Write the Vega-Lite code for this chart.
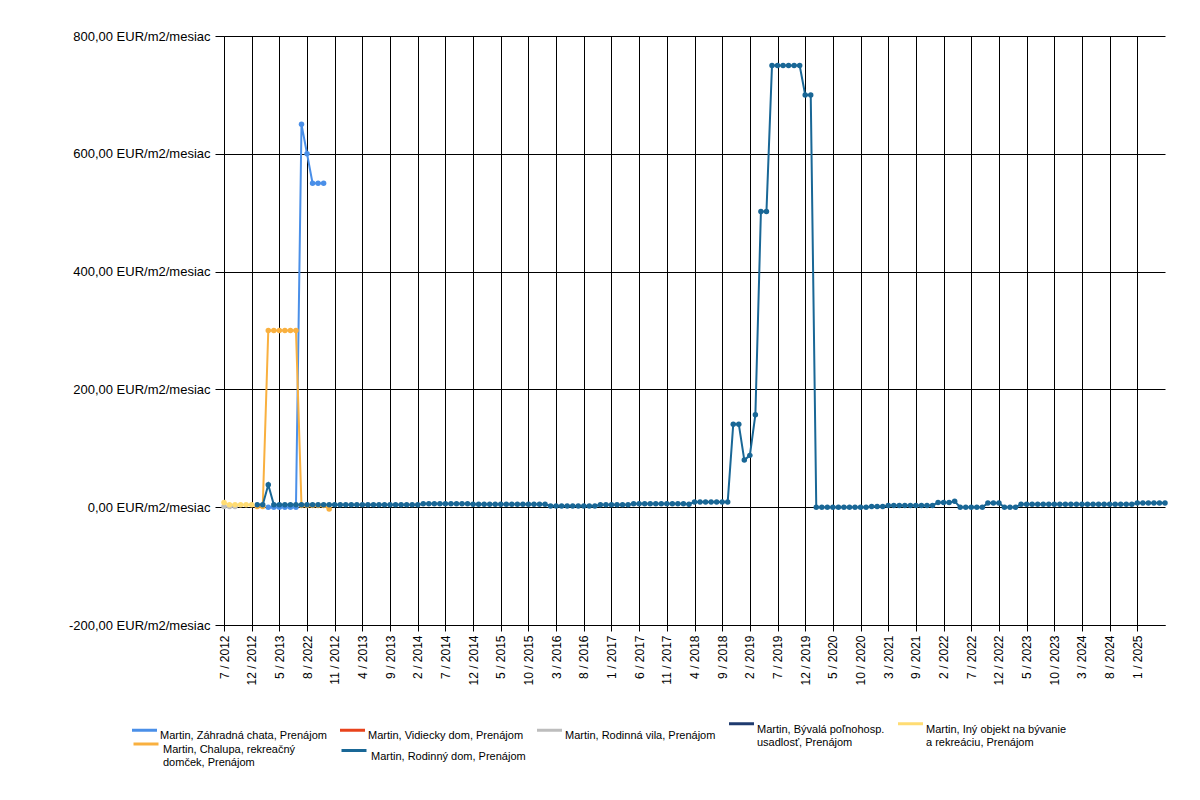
{
  "$schema": "https://vega.github.io/schema/vega-lite/v6.json",
  "width": 941,
  "height": 589,
  "autosize": {"type": "none"},
  "padding": {"left": 224, "top": 36, "right": 35, "bottom": 175},
  "background": "white",
  "config": {"view": {"stroke": null}, "font": "Liberation Sans"},
  "data": {"values": [
    {"series": "Martin, Záhradná chata, Prenájom", "i": 8, "value": 0},
    {"series": "Martin, Záhradná chata, Prenájom", "i": 9, "value": 0},
    {"series": "Martin, Záhradná chata, Prenájom", "i": 10, "value": 0},
    {"series": "Martin, Záhradná chata, Prenájom", "i": 11, "value": 0},
    {"series": "Martin, Záhradná chata, Prenájom", "i": 12, "value": 0},
    {"series": "Martin, Záhradná chata, Prenájom", "i": 13, "value": 0},
    {"series": "Martin, Záhradná chata, Prenájom", "i": 14, "value": 650},
    {"series": "Martin, Záhradná chata, Prenájom", "i": 15, "value": 600},
    {"series": "Martin, Záhradná chata, Prenájom", "i": 16, "value": 550},
    {"series": "Martin, Záhradná chata, Prenájom", "i": 17, "value": 550},
    {"series": "Martin, Záhradná chata, Prenájom", "i": 18, "value": 550},
    {"series": "Martin, Chalupa, rekreačný domček, Prenájom", "i": 6, "value": 1},
    {"series": "Martin, Chalupa, rekreačný domček, Prenájom", "i": 7, "value": 1},
    {"series": "Martin, Chalupa, rekreačný domček, Prenájom", "i": 8, "value": 300},
    {"series": "Martin, Chalupa, rekreačný domček, Prenájom", "i": 9, "value": 300},
    {"series": "Martin, Chalupa, rekreačný domček, Prenájom", "i": 10, "value": 300},
    {"series": "Martin, Chalupa, rekreačný domček, Prenájom", "i": 11, "value": 300},
    {"series": "Martin, Chalupa, rekreačný domček, Prenájom", "i": 12, "value": 300},
    {"series": "Martin, Chalupa, rekreačný domček, Prenájom", "i": 13, "value": 300},
    {"series": "Martin, Chalupa, rekreačný domček, Prenájom", "i": 14, "value": 3},
    {"series": "Martin, Chalupa, rekreačný domček, Prenájom", "i": 15, "value": 3},
    {"series": "Martin, Chalupa, rekreačný domček, Prenájom", "i": 16, "value": 3},
    {"series": "Martin, Chalupa, rekreačný domček, Prenájom", "i": 17, "value": 3},
    {"series": "Martin, Chalupa, rekreačný domček, Prenájom", "i": 18, "value": 3},
    {"series": "Martin, Chalupa, rekreačný domček, Prenájom", "i": 19, "value": -3},
    {"series": "Martin, Rodinný dom, Prenájom", "i": 6, "value": 4},
    {"series": "Martin, Rodinný dom, Prenájom", "i": 7, "value": 4},
    {"series": "Martin, Rodinný dom, Prenájom", "i": 8, "value": 38},
    {"series": "Martin, Rodinný dom, Prenájom", "i": 9, "value": 4},
    {"series": "Martin, Rodinný dom, Prenájom", "i": 10, "value": 4},
    {"series": "Martin, Rodinný dom, Prenájom", "i": 11, "value": 4},
    {"series": "Martin, Rodinný dom, Prenájom", "i": 12, "value": 4},
    {"series": "Martin, Rodinný dom, Prenájom", "i": 13, "value": 4},
    {"series": "Martin, Rodinný dom, Prenájom", "i": 14, "value": 4},
    {"series": "Martin, Rodinný dom, Prenájom", "i": 15, "value": 4},
    {"series": "Martin, Rodinný dom, Prenájom", "i": 16, "value": 4},
    {"series": "Martin, Rodinný dom, Prenájom", "i": 17, "value": 4},
    {"series": "Martin, Rodinný dom, Prenájom", "i": 18, "value": 4},
    {"series": "Martin, Rodinný dom, Prenájom", "i": 19, "value": 4},
    {"series": "Martin, Rodinný dom, Prenájom", "i": 20, "value": 4},
    {"series": "Martin, Rodinný dom, Prenájom", "i": 21, "value": 4},
    {"series": "Martin, Rodinný dom, Prenájom", "i": 22, "value": 4},
    {"series": "Martin, Rodinný dom, Prenájom", "i": 23, "value": 4},
    {"series": "Martin, Rodinný dom, Prenájom", "i": 24, "value": 4},
    {"series": "Martin, Rodinný dom, Prenájom", "i": 25, "value": 4},
    {"series": "Martin, Rodinný dom, Prenájom", "i": 26, "value": 4},
    {"series": "Martin, Rodinný dom, Prenájom", "i": 27, "value": 4},
    {"series": "Martin, Rodinný dom, Prenájom", "i": 28, "value": 4},
    {"series": "Martin, Rodinný dom, Prenájom", "i": 29, "value": 4},
    {"series": "Martin, Rodinný dom, Prenájom", "i": 30, "value": 4},
    {"series": "Martin, Rodinný dom, Prenájom", "i": 31, "value": 4},
    {"series": "Martin, Rodinný dom, Prenájom", "i": 32, "value": 4},
    {"series": "Martin, Rodinný dom, Prenájom", "i": 33, "value": 4},
    {"series": "Martin, Rodinný dom, Prenájom", "i": 34, "value": 4},
    {"series": "Martin, Rodinný dom, Prenájom", "i": 35, "value": 4},
    {"series": "Martin, Rodinný dom, Prenájom", "i": 36, "value": 6},
    {"series": "Martin, Rodinný dom, Prenájom", "i": 37, "value": 6},
    {"series": "Martin, Rodinný dom, Prenájom", "i": 38, "value": 6},
    {"series": "Martin, Rodinný dom, Prenájom", "i": 39, "value": 6},
    {"series": "Martin, Rodinný dom, Prenájom", "i": 40, "value": 6},
    {"series": "Martin, Rodinný dom, Prenájom", "i": 41, "value": 6},
    {"series": "Martin, Rodinný dom, Prenájom", "i": 42, "value": 6},
    {"series": "Martin, Rodinný dom, Prenájom", "i": 43, "value": 6},
    {"series": "Martin, Rodinný dom, Prenájom", "i": 44, "value": 6},
    {"series": "Martin, Rodinný dom, Prenájom", "i": 45, "value": 5},
    {"series": "Martin, Rodinný dom, Prenájom", "i": 46, "value": 5},
    {"series": "Martin, Rodinný dom, Prenájom", "i": 47, "value": 5},
    {"series": "Martin, Rodinný dom, Prenájom", "i": 48, "value": 5},
    {"series": "Martin, Rodinný dom, Prenájom", "i": 49, "value": 5},
    {"series": "Martin, Rodinný dom, Prenájom", "i": 50, "value": 5},
    {"series": "Martin, Rodinný dom, Prenájom", "i": 51, "value": 5},
    {"series": "Martin, Rodinný dom, Prenájom", "i": 52, "value": 5},
    {"series": "Martin, Rodinný dom, Prenájom", "i": 53, "value": 5},
    {"series": "Martin, Rodinný dom, Prenájom", "i": 54, "value": 5},
    {"series": "Martin, Rodinný dom, Prenájom", "i": 55, "value": 5},
    {"series": "Martin, Rodinný dom, Prenájom", "i": 56, "value": 5},
    {"series": "Martin, Rodinný dom, Prenájom", "i": 57, "value": 5},
    {"series": "Martin, Rodinný dom, Prenájom", "i": 58, "value": 5},
    {"series": "Martin, Rodinný dom, Prenájom", "i": 59, "value": 2},
    {"series": "Martin, Rodinný dom, Prenájom", "i": 60, "value": 2},
    {"series": "Martin, Rodinný dom, Prenájom", "i": 61, "value": 2},
    {"series": "Martin, Rodinný dom, Prenájom", "i": 62, "value": 2},
    {"series": "Martin, Rodinný dom, Prenájom", "i": 63, "value": 2},
    {"series": "Martin, Rodinný dom, Prenájom", "i": 64, "value": 2},
    {"series": "Martin, Rodinný dom, Prenájom", "i": 65, "value": 2},
    {"series": "Martin, Rodinný dom, Prenájom", "i": 66, "value": 2},
    {"series": "Martin, Rodinný dom, Prenájom", "i": 67, "value": 2},
    {"series": "Martin, Rodinný dom, Prenájom", "i": 68, "value": 4},
    {"series": "Martin, Rodinný dom, Prenájom", "i": 69, "value": 4},
    {"series": "Martin, Rodinný dom, Prenájom", "i": 70, "value": 4},
    {"series": "Martin, Rodinný dom, Prenájom", "i": 71, "value": 4},
    {"series": "Martin, Rodinný dom, Prenájom", "i": 72, "value": 4},
    {"series": "Martin, Rodinný dom, Prenájom", "i": 73, "value": 4},
    {"series": "Martin, Rodinný dom, Prenájom", "i": 74, "value": 6},
    {"series": "Martin, Rodinný dom, Prenájom", "i": 75, "value": 6},
    {"series": "Martin, Rodinný dom, Prenájom", "i": 76, "value": 6},
    {"series": "Martin, Rodinný dom, Prenájom", "i": 77, "value": 6},
    {"series": "Martin, Rodinný dom, Prenájom", "i": 78, "value": 6},
    {"series": "Martin, Rodinný dom, Prenájom", "i": 79, "value": 6},
    {"series": "Martin, Rodinný dom, Prenájom", "i": 80, "value": 6},
    {"series": "Martin, Rodinný dom, Prenájom", "i": 81, "value": 6},
    {"series": "Martin, Rodinný dom, Prenájom", "i": 82, "value": 6},
    {"series": "Martin, Rodinný dom, Prenájom", "i": 83, "value": 6},
    {"series": "Martin, Rodinný dom, Prenájom", "i": 84, "value": 5},
    {"series": "Martin, Rodinný dom, Prenájom", "i": 85, "value": 9},
    {"series": "Martin, Rodinný dom, Prenájom", "i": 86, "value": 9},
    {"series": "Martin, Rodinný dom, Prenájom", "i": 87, "value": 9},
    {"series": "Martin, Rodinný dom, Prenájom", "i": 88, "value": 9},
    {"series": "Martin, Rodinný dom, Prenájom", "i": 89, "value": 9},
    {"series": "Martin, Rodinný dom, Prenájom", "i": 90, "value": 9},
    {"series": "Martin, Rodinný dom, Prenájom", "i": 91, "value": 9},
    {"series": "Martin, Rodinný dom, Prenájom", "i": 92, "value": 141},
    {"series": "Martin, Rodinný dom, Prenájom", "i": 93, "value": 141},
    {"series": "Martin, Rodinný dom, Prenájom", "i": 94, "value": 80},
    {"series": "Martin, Rodinný dom, Prenájom", "i": 95, "value": 88},
    {"series": "Martin, Rodinný dom, Prenájom", "i": 96, "value": 157},
    {"series": "Martin, Rodinný dom, Prenájom", "i": 97, "value": 502},
    {"series": "Martin, Rodinný dom, Prenájom", "i": 98, "value": 502},
    {"series": "Martin, Rodinný dom, Prenájom", "i": 99, "value": 750},
    {"series": "Martin, Rodinný dom, Prenájom", "i": 100, "value": 750},
    {"series": "Martin, Rodinný dom, Prenájom", "i": 101, "value": 750},
    {"series": "Martin, Rodinný dom, Prenájom", "i": 102, "value": 750},
    {"series": "Martin, Rodinný dom, Prenájom", "i": 103, "value": 750},
    {"series": "Martin, Rodinný dom, Prenájom", "i": 104, "value": 750},
    {"series": "Martin, Rodinný dom, Prenájom", "i": 105, "value": 700},
    {"series": "Martin, Rodinný dom, Prenájom", "i": 106, "value": 700},
    {"series": "Martin, Rodinný dom, Prenájom", "i": 107, "value": 0},
    {"series": "Martin, Rodinný dom, Prenájom", "i": 108, "value": 0},
    {"series": "Martin, Rodinný dom, Prenájom", "i": 109, "value": 0},
    {"series": "Martin, Rodinný dom, Prenájom", "i": 110, "value": 0},
    {"series": "Martin, Rodinný dom, Prenájom", "i": 111, "value": 0},
    {"series": "Martin, Rodinný dom, Prenájom", "i": 112, "value": 0},
    {"series": "Martin, Rodinný dom, Prenájom", "i": 113, "value": 0},
    {"series": "Martin, Rodinný dom, Prenájom", "i": 114, "value": 0},
    {"series": "Martin, Rodinný dom, Prenájom", "i": 115, "value": 0},
    {"series": "Martin, Rodinný dom, Prenájom", "i": 116, "value": 0},
    {"series": "Martin, Rodinný dom, Prenájom", "i": 117, "value": 1},
    {"series": "Martin, Rodinný dom, Prenájom", "i": 118, "value": 1},
    {"series": "Martin, Rodinný dom, Prenájom", "i": 119, "value": 1},
    {"series": "Martin, Rodinný dom, Prenájom", "i": 120, "value": 3},
    {"series": "Martin, Rodinný dom, Prenájom", "i": 121, "value": 3},
    {"series": "Martin, Rodinný dom, Prenájom", "i": 122, "value": 3},
    {"series": "Martin, Rodinný dom, Prenájom", "i": 123, "value": 3},
    {"series": "Martin, Rodinný dom, Prenájom", "i": 124, "value": 3},
    {"series": "Martin, Rodinný dom, Prenájom", "i": 125, "value": 3},
    {"series": "Martin, Rodinný dom, Prenájom", "i": 126, "value": 3},
    {"series": "Martin, Rodinný dom, Prenájom", "i": 127, "value": 3},
    {"series": "Martin, Rodinný dom, Prenájom", "i": 128, "value": 3},
    {"series": "Martin, Rodinný dom, Prenájom", "i": 129, "value": 8},
    {"series": "Martin, Rodinný dom, Prenájom", "i": 130, "value": 8},
    {"series": "Martin, Rodinný dom, Prenájom", "i": 131, "value": 8},
    {"series": "Martin, Rodinný dom, Prenájom", "i": 132, "value": 10},
    {"series": "Martin, Rodinný dom, Prenájom", "i": 133, "value": 0},
    {"series": "Martin, Rodinný dom, Prenájom", "i": 134, "value": 0},
    {"series": "Martin, Rodinný dom, Prenájom", "i": 135, "value": 0},
    {"series": "Martin, Rodinný dom, Prenájom", "i": 136, "value": 0},
    {"series": "Martin, Rodinný dom, Prenájom", "i": 137, "value": 0},
    {"series": "Martin, Rodinný dom, Prenájom", "i": 138, "value": 7},
    {"series": "Martin, Rodinný dom, Prenájom", "i": 139, "value": 7},
    {"series": "Martin, Rodinný dom, Prenájom", "i": 140, "value": 7},
    {"series": "Martin, Rodinný dom, Prenájom", "i": 141, "value": 0},
    {"series": "Martin, Rodinný dom, Prenájom", "i": 142, "value": 0},
    {"series": "Martin, Rodinný dom, Prenájom", "i": 143, "value": 0},
    {"series": "Martin, Rodinný dom, Prenájom", "i": 144, "value": 5},
    {"series": "Martin, Rodinný dom, Prenájom", "i": 145, "value": 5},
    {"series": "Martin, Rodinný dom, Prenájom", "i": 146, "value": 5},
    {"series": "Martin, Rodinný dom, Prenájom", "i": 147, "value": 5},
    {"series": "Martin, Rodinný dom, Prenájom", "i": 148, "value": 5},
    {"series": "Martin, Rodinný dom, Prenájom", "i": 149, "value": 5},
    {"series": "Martin, Rodinný dom, Prenájom", "i": 150, "value": 5},
    {"series": "Martin, Rodinný dom, Prenájom", "i": 151, "value": 5},
    {"series": "Martin, Rodinný dom, Prenájom", "i": 152, "value": 5},
    {"series": "Martin, Rodinný dom, Prenájom", "i": 153, "value": 5},
    {"series": "Martin, Rodinný dom, Prenájom", "i": 154, "value": 5},
    {"series": "Martin, Rodinný dom, Prenájom", "i": 155, "value": 5},
    {"series": "Martin, Rodinný dom, Prenájom", "i": 156, "value": 5},
    {"series": "Martin, Rodinný dom, Prenájom", "i": 157, "value": 5},
    {"series": "Martin, Rodinný dom, Prenájom", "i": 158, "value": 5},
    {"series": "Martin, Rodinný dom, Prenájom", "i": 159, "value": 5},
    {"series": "Martin, Rodinný dom, Prenájom", "i": 160, "value": 5},
    {"series": "Martin, Rodinný dom, Prenájom", "i": 161, "value": 5},
    {"series": "Martin, Rodinný dom, Prenájom", "i": 162, "value": 5},
    {"series": "Martin, Rodinný dom, Prenájom", "i": 163, "value": 5},
    {"series": "Martin, Rodinný dom, Prenájom", "i": 164, "value": 5},
    {"series": "Martin, Rodinný dom, Prenájom", "i": 165, "value": 7},
    {"series": "Martin, Rodinný dom, Prenájom", "i": 166, "value": 7},
    {"series": "Martin, Rodinný dom, Prenájom", "i": 167, "value": 7},
    {"series": "Martin, Rodinný dom, Prenájom", "i": 168, "value": 7},
    {"series": "Martin, Rodinný dom, Prenájom", "i": 169, "value": 7},
    {"series": "Martin, Rodinný dom, Prenájom", "i": 170, "value": 7},
    {"series": "Martin, Rodinná vila, Prenájom", "i": 0, "value": 1},
    {"series": "Martin, Rodinná vila, Prenájom", "i": 1, "value": 1},
    {"series": "Martin, Rodinná vila, Prenájom", "i": 2, "value": 1},
    {"series": "Martin, Iný objekt na bývanie a rekreáciu, Prenájom", "i": 0, "value": 8},
    {"series": "Martin, Iný objekt na bývanie a rekreáciu, Prenájom", "i": 1, "value": 4},
    {"series": "Martin, Iný objekt na bývanie a rekreáciu, Prenájom", "i": 2, "value": 4},
    {"series": "Martin, Iný objekt na bývanie a rekreáciu, Prenájom", "i": 3, "value": 4},
    {"series": "Martin, Iný objekt na bývanie a rekreáciu, Prenájom", "i": 4, "value": 4},
    {"series": "Martin, Iný objekt na bývanie a rekreáciu, Prenájom", "i": 5, "value": 4}
  ]},
  "mark": {"type": "line", "strokeWidth": 2, "point": {"filled": true, "size": 30, "opacity": 1, "strokeWidth": 0}},
  "encoding": {
    "x": {
      "field": "i",
      "type": "quantitative",
      "scale": {"domain": [0, 170], "nice": false, "zero": false},
      "axis": {
        "title": null,
        "values": [0, 5, 10, 15, 20, 25, 30, 35, 40, 45, 50, 55, 60, 65, 70, 75, 80, 85, 90, 95, 100, 105, 110, 115, 120, 125, 130, 135, 140, 145, 150, 155, 160, 165],
        "labelExpr": "['7 / 2012','12 / 2012','5 / 2013','8 / 2022','11 / 2012','4 / 2013','9 / 2013','2 / 2014','7 / 2014','12 / 2014','5 / 2015','10 / 2015','3 / 2016','8 / 2016','1 / 2017','6 / 2017','11 / 2017','4 / 2018','9 / 2018','2 / 2019','7 / 2019','12 / 2019','5 / 2020','10 / 2020','3 / 2021','9 / 2021','2 / 2022','7 / 2022','12 / 2022','5 / 2023','10 / 2023','3 / 2024','8 / 2024','1 / 2025'][round(datum.value / 5)]",
        "labelAngle": -90,
        "labelFontSize": 12,
        "labelColor": "black",
        "labelPadding": 4,
        "labelOverlap": false,
        "labelFlush": false,
        "grid": true,
        "gridColor": "black",
        "gridOpacity": 1,
        "gridWidth": 1,
        "tickColor": "black",
        "tickSize": 6,
        "domainColor": "black"
      }
    },
    "y": {
      "field": "value",
      "type": "quantitative",
      "scale": {"domain": [-200, 800], "nice": false, "zero": false},
      "axis": {
        "title": null,
        "values": [-200, 0, 200, 400, 600, 800],
        "labelExpr": "datum.value + ',00 EUR/m2/mesiac'",
        "labelFontSize": 13,
        "labelColor": "black",
        "labelPadding": 5,
        "labelOverlap": false,
        "labelFlush": false,
        "grid": true,
        "gridColor": "black",
        "gridOpacity": 1,
        "gridWidth": 1,
        "tickColor": "black",
        "tickSize": 9,
        "domainColor": "black"
      }
    },
    "color": {
      "field": "series",
      "type": "nominal",
      "scale": {
        "domain": ["Martin, Záhradná chata, Prenájom", "Martin, Vidiecky dom, Prenájom", "Martin, Rodinná vila, Prenájom", "Martin, Bývalá poľnohosp. usadlosť, Prenájom", "Martin, Iný objekt na bývanie a rekreáciu, Prenájom", "Martin, Chalupa, rekreačný domček, Prenájom", "Martin, Rodinný dom, Prenájom"],
        "range": ["#4a8fe8", "#e8431c", "#bdbdbd", "#1f3b6f", "#ffdc73", "#f9b03f", "#196796"]
      },
      "legend": {
        "title": null,
        "orient": "none",
        "direction": "horizontal",
        "values": ["Martin, Záhradná chata, Prenájom", "Martin, Vidiecky dom, Prenájom", "Martin, Rodinná vila, Prenájom", "Martin, Bývalá poľnohosp. usadlosť, Prenájom", "Martin, Iný objekt na bývanie a rekreáciu, Prenájom"],
        "legendX": -92,
        "legendY": 675,
        "columns": 5,
        "padding": 0,
        "columnPadding": 13,
        "symbolType": "M-1,-0.12H1V0.12H-1Z",
        "symbolSize": 625,
        "symbolStrokeWidth": 0,
        "symbolOpacity": 1,
        "labelFontSize": 11,
        "labelColor": "black",
        "labelLimit": 400,
        "labelOffset": 3,
        "labelBaseline": "top",
        "labelExpr": "datum.label == 'Martin, Bývalá poľnohosp. usadlosť, Prenájom' ? ['Martin, Bývalá poľnohosp.', 'usadlosť, Prenájom'] : datum.label == 'Martin, Iný objekt na bývanie a rekreáciu, Prenájom' ? ['Martin, Iný objekt na bývanie', 'a rekreáciu, Prenájom'] : datum.label"
      }
    },
    "stroke": {
      "field": "series",
      "type": "nominal",
      "scale": {
        "domain": ["Martin, Chalupa, rekreačný domček, Prenájom", "Martin, Rodinný dom, Prenájom", "Martin, Záhradná chata, Prenájom", "Martin, Vidiecky dom, Prenájom", "Martin, Rodinná vila, Prenájom", "Martin, Bývalá poľnohosp. usadlosť, Prenájom", "Martin, Iný objekt na bývanie a rekreáciu, Prenájom"],
        "range": ["#f9b03f", "#196796", "#4a8fe8", "#e8431c", "#bdbdbd", "#1f3b6f", "#ffdc73"]
      },
      "legend": {
        "title": null,
        "orient": "none",
        "direction": "horizontal",
        "values": ["Martin, Chalupa, rekreačný domček, Prenájom", "Martin, Rodinný dom, Prenájom"],
        "legendX": -92,
        "legendY": 694,
        "columns": 2,
        "padding": 0,
        "columnPadding": 39,
        "symbolType": "stroke",
        "symbolSize": 625,
        "symbolStrokeWidth": 3,
        "labelFontSize": 11,
        "labelColor": "black",
        "labelLimit": 400,
        "labelOffset": 3,
        "labelBaseline": "top",
        "labelExpr": "datum.label == 'Martin, Chalupa, rekreačný domček, Prenájom' ? ['Martin, Chalupa, rekreačný', 'domček, Prenájom'] : datum.label"
      }
    }
  }
}
